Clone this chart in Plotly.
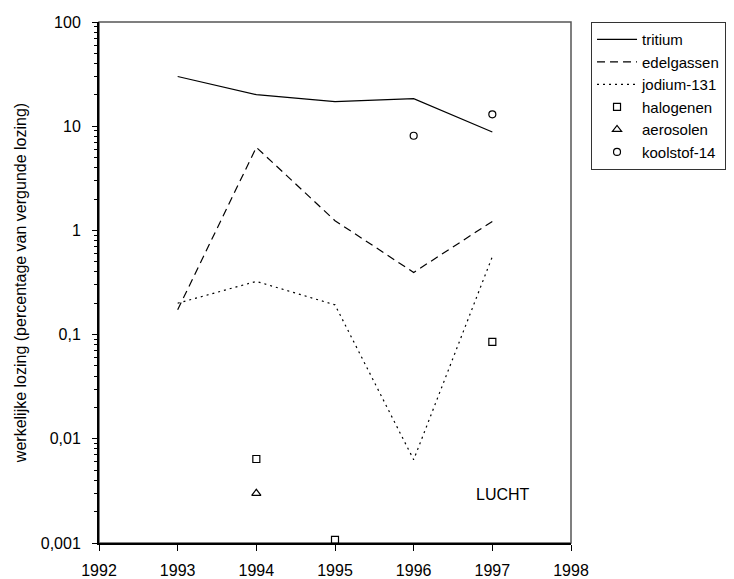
import math
import plotly.graph_objects as go

# Lozingen naar de lucht, als percentage van de vergunde lozing
years = [1993, 1994, 1995, 1996, 1997]
tritium = [30, 20.1, 17.2, 18.4, 8.8]
edelgassen = [0.173, 6.27, 1.24, 0.395, 1.22]
jodium_131 = [0.2, 0.324, 0.193, 0.0063, 0.56]

halogenen_years = [1994, 1995, 1997]
halogenen = [0.0064, 0.00107, 0.085]
aerosolen_years = [1994]
aerosolen = [0.003]
koolstof_years = [1996, 1997]
koolstof_14 = [8.1, 13.0]

y_tickvals = [0.001, 0.01, 0.1, 1, 10, 100]
y_ticktext = ["0,001", "0,01", "0,1", "1", "10", "100"]
x_ticks = [1992, 1993, 1994, 1995, 1996, 1997, 1998]

FONT = "Liberation Sans, Arial, sans-serif"

fig = go.Figure()
fig.add_trace(go.Scatter(x=years, y=tritium, mode="lines", name="tritium",
                         line=dict(color="black", width=1.2)))
fig.add_trace(go.Scatter(x=years, y=edelgassen, mode="lines", name="edelgassen",
                         line=dict(color="black", width=1.2, dash="8px,5px")))
fig.add_trace(go.Scatter(x=years, y=jodium_131, mode="lines", name="jodium-131",
                         line=dict(color="black", width=1.2, dash="2px,4px")))
fig.add_trace(go.Scatter(x=halogenen_years, y=halogenen, mode="markers", name="halogenen",
                         marker=dict(symbol="square-open", size=7, color="black",
                                     line=dict(width=1.2)), cliponaxis=False))
fig.add_trace(go.Scatter(x=aerosolen_years, y=aerosolen, mode="markers", name="aerosolen",
                         marker=dict(symbol="triangle-up-open", size=8, color="black",
                                     line=dict(width=1.2)), cliponaxis=False))
fig.add_trace(go.Scatter(x=koolstof_years, y=koolstof_14, mode="markers", name="koolstof-14",
                         marker=dict(symbol="circle-open", size=7, color="black",
                                     line=dict(width=1.2)), cliponaxis=False))

# thin frame around the plotting area
fig.add_shape(type="rect", xref="paper", yref="paper", x0=0, y0=0, x1=1, y1=1,
              line=dict(color="#555555", width=1.5), layer="below")

# log axis: annotation y is given in log10 units
fig.add_annotation(x=1997.13, y=math.log10(0.0029), xref="x", yref="y", text="LUCHT",
                   showarrow=False, font=dict(size=16, color="black", family=FONT),
                   xanchor="center", yanchor="middle")

fig.update_layout(
    width=734, height=579,
    margin=dict(l=99, r=163, t=22, b=36, autoexpand=False),
    paper_bgcolor="white", plot_bgcolor="white",
    font=dict(family=FONT, size=16, color="black"),
    showlegend=True,
    legend=dict(x=1.042, y=1.0, xanchor="left", yanchor="top",
                bordercolor="#333333", borderwidth=1.2, bgcolor="white",
                font=dict(size=15, family=FONT), tracegroupgap=0,
                itemwidth=40),
)
fig.update_xaxes(range=[1992, 1998], tickvals=x_ticks, ticks="outside", ticklen=6,
                 tickwidth=1.2, tickcolor="black", showline=True, linecolor="black",
                 linewidth=2, showgrid=False, zeroline=False, ticklabelstandoff=6,
                 tickfont=dict(size=16, family=FONT))
fig.update_yaxes(type="log", range=[-3, 2], tickvals=y_tickvals, ticktext=y_ticktext,
                 ticks="outside", ticklen=5, tickwidth=1.2, tickcolor="black",
                 showline=True, linecolor="black", linewidth=2, showgrid=False,
                 zeroline=False, ticklabelstandoff=8, tickfont=dict(size=16, family=FONT),
                 minor=dict(ticks="outside", ticklen=3, tickwidth=1, tickcolor="black",
                            tickvals=[m * 10 ** e for e in range(-3, 2) for m in range(2, 10)]),
                 title=dict(text="werkelijke lozing (percentage van vergunde lozing)",
                            font=dict(size=16, family=FONT), standoff=10))

fig.write_html("out.html")
